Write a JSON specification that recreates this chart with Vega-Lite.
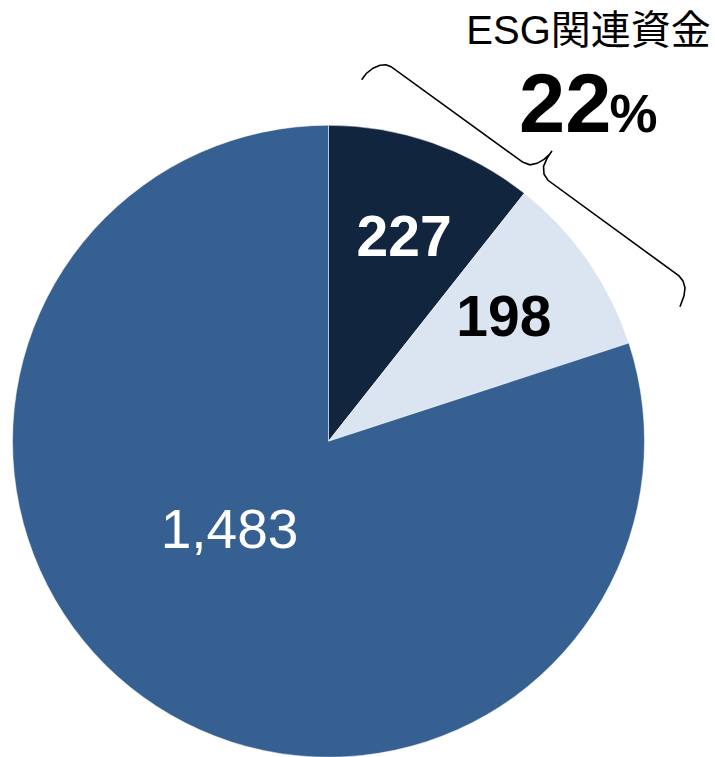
{
  "$schema": "https://vega.github.io/schema/vega-lite/v6.json",
  "width": 715,
  "height": 757,
  "autosize": {"type": "fit", "contains": "padding"},
  "padding": 0,
  "background": "white",
  "view": {"stroke": null},
  "config": {"font": "Liberation Sans"},
  "datasets": {
    "slices": [
      {"category": "A", "label": "227", "share": 10.64, "order": 1},
      {"category": "B", "label": "198", "share": 9.33, "order": 2},
      {"category": "C", "label": "1,483", "share": 80.03, "order": 3}
    ],
    "brace": [
      {"i": 1, "X": 10.51, "Y": 114.87},
      {"i": 2, "X": 11.87, "Y": 116.77},
      {"i": 3, "X": 14.08, "Y": 118.51},
      {"i": 4, "X": 16.30, "Y": 119.46},
      {"i": 5, "X": 18.20, "Y": 119.62},
      {"i": 6, "X": 19.78, "Y": 118.99},
      {"i": 7, "X": 61.55, "Y": 88.61},
      {"i": 8, "X": 63.77, "Y": 87.82},
      {"i": 9, "X": 65.98, "Y": 88.29},
      {"i": 10, "X": 68.20, "Y": 89.56},
      {"i": 11, "X": 69.78, "Y": 90.98},
      {"i": 12, "X": 70.73, "Y": 92.25},
      {"i": 13, "X": 69.15, "Y": 89.87},
      {"i": 14, "X": 68.04, "Y": 87.34},
      {"i": 15, "X": 68.20, "Y": 84.81},
      {"i": 16, "X": 69.46, "Y": 82.91},
      {"i": 17, "X": 110.92, "Y": 52.53},
      {"i": 18, "X": 112.18, "Y": 50.95},
      {"i": 19, "X": 112.82, "Y": 48.73},
      {"i": 20, "X": 112.50, "Y": 46.20},
      {"i": 21, "X": 111.23, "Y": 42.72}
    ]
  },
  "layer": [
    {
      "data": {"name": "slices"},
      "mark": {"type": "arc", "outerRadius": 316, "stroke": "white", "strokeWidth": 0.5},
      "encoding": {
        "theta": {"field": "share", "type": "quantitative", "stack": true},
        "order": {"field": "order", "type": "quantitative"},
        "color": {
          "field": "category",
          "type": "nominal",
          "scale": {"domain": ["A", "B", "C"], "range": ["#12253f", "#dbe4f1", "#366092"]},
          "legend": null
        },
        "x": {"datum": 0, "type": "quantitative", "scale": {"domain": [-103.96, 122.31], "nice": false, "zero": false}, "axis": null},
        "y": {"datum": 0, "type": "quantitative", "scale": {"domain": [-99.37, 140.19], "nice": false, "zero": false}, "axis": null}
      }
    },
    {
      "data": {"name": "slices"},
      "mark": {"type": "text", "radius": 215, "fontSize": 57, "fontWeight": "bold", "font": "Liberation Sans", "align": "center", "baseline": "middle", "dx": 5, "dy": 1, "fill": "white"},
      "encoding": {
        "theta": {"field": "share", "type": "quantitative", "stack": true},
        "order": {"field": "order", "type": "quantitative"},
        "text": {"condition": {"test": "datum.category !== 'A'", "value": ""}, "field": "label", "type": "nominal"},
        "x": {"datum": 0, "type": "quantitative"},
        "y": {"datum": 0, "type": "quantitative"}
      }
    },
    {
      "data": {"name": "slices"},
      "mark": {"type": "text", "radius": 215, "fontSize": 57, "fontWeight": "bold", "font": "Liberation Sans", "align": "center", "baseline": "middle", "dx": -1, "dy": 1, "fill": "black"},
      "encoding": {
        "theta": {"field": "share", "type": "quantitative", "stack": true},
        "order": {"field": "order", "type": "quantitative"},
        "text": {"condition": {"test": "datum.category !== 'B'", "value": ""}, "field": "label", "type": "nominal"},
        "x": {"datum": 0, "type": "quantitative"},
        "y": {"datum": 0, "type": "quantitative"}
      }
    },
    {
      "data": {"name": "slices"},
      "mark": {"type": "text", "radius": 132, "fontSize": 55, "fontWeight": "normal", "font": "Liberation Sans", "align": "center", "baseline": "middle", "dx": -21.5, "dy": -17, "fill": "white"},
      "encoding": {
        "theta": {"field": "share", "type": "quantitative", "stack": true},
        "order": {"field": "order", "type": "quantitative"},
        "text": {"condition": {"test": "datum.category !== 'C'", "value": ""}, "field": "label", "type": "nominal"},
        "x": {"datum": 0, "type": "quantitative"},
        "y": {"datum": 0, "type": "quantitative"}
      }
    },
    {
      "data": {"name": "brace"},
      "mark": {"type": "line", "stroke": "black", "strokeWidth": 1.6, "interpolate": "linear"},
      "encoding": {
        "x": {"field": "X", "type": "quantitative"},
        "y": {"field": "Y", "type": "quantitative"},
        "order": {"field": "i", "type": "quantitative"}
      }
    },
    {
      "data": {"values": [{"t": "ESG関連資金"}]},
      "mark": {"type": "text", "fontSize": 40, "font": "Liberation Sans, Noto Sans CJK JP", "align": "center", "baseline": "alphabetic", "fill": "black"},
      "encoding": {
        "text": {"field": "t", "type": "nominal"},
        "x": {"datum": 82.28, "type": "quantitative"},
        "y": {"datum": 126.27, "type": "quantitative"}
      }
    },
    {
      "data": {"values": [{"t": "22"}]},
      "mark": {"type": "text", "fontSize": 83, "fontWeight": "bold", "font": "Liberation Sans", "align": "right", "baseline": "alphabetic", "fill": "black"},
      "encoding": {
        "text": {"field": "t", "type": "nominal"},
        "x": {"datum": 89.5, "type": "quantitative"},
        "y": {"datum": 98.4, "type": "quantitative"}
      }
    },
    {
      "data": {"values": [{"t": "%"}]},
      "mark": {"type": "text", "fontSize": 54, "fontWeight": "bold", "font": "Liberation Sans", "align": "left", "baseline": "alphabetic", "fill": "black"},
      "encoding": {
        "text": {"field": "t", "type": "nominal"},
        "x": {"datum": 88.9, "type": "quantitative"},
        "y": {"datum": 98.4, "type": "quantitative"}
      }
    }
  ]
}
